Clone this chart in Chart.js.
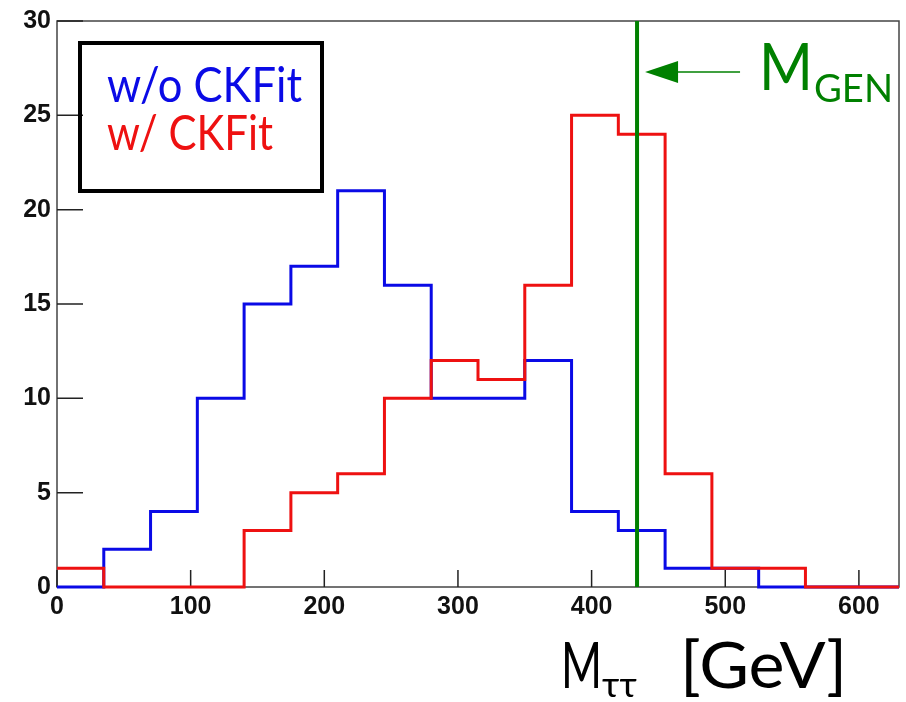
<!DOCTYPE html>
<html>
<head>
<meta charset="utf-8">
<title>M tautau</title>
<script src="https://cdn.jsdelivr.net/npm/chart.js@4"></script>
<style>
  html, body { margin: 0; padding: 0; background: #fff; }
  #wrap { width: 906px; height: 702px; }
</style>
</head>
<body>
<div id="wrap"><canvas id="massChart"></canvas></div>
<script>
// ==================== DATA ====================

// bin edges in GeV (35 GeV bins)
const binEdges = [0, 35, 70, 105, 140, 175, 210, 245, 280, 315, 350, 385, 420, 455, 490, 525, 560, 595, 630];
// entries per bin
const countsNoFit = [0, 2, 4, 10, 15, 17, 21, 16, 10, 10, 12, 4, 3, 1, 1, 0, 0, 0];
const countsFit = [1, 0, 0, 0, 3, 5, 6, 10, 12, 11, 16, 25, 24, 6, 1, 1, 0, 0];
const xTicks = [0, 100, 200, 300, 400, 500, 600];
const yTicks = [0, 5, 10, 15, 20, 25, 30];
const massGen = 434;

const BLUE = '#0a0ae6';
const RED = '#ee1111';
const GREEN = '#008000';
const TEXT_FONT = 'Lato, "DejaVu Sans", sans-serif';

// histogram outline: one point per bin edge, last bin repeated at the right edge
function toSteps(counts) {
    return binEdges.map((x, i) => ({ x: x, y: counts[Math.min(i, counts.length - 1)] }));
}

// ==================== DRAWING HELPERS ====================

// draw text squeezed or stretched horizontally to a given width
function drawFitted(ctx, text, x, baseline, width, size, color) {
    ctx.save();
    ctx.font = size + 'px ' + TEXT_FONT;
    ctx.fillStyle = color;
    ctx.textAlign = 'left';
    ctx.textBaseline = 'alphabetic';
    const w = ctx.measureText(text).width;
    ctx.translate(x, baseline);
    ctx.scale(width / w, 1);
    ctx.fillText(text, 0, 0);
    ctx.restore();
}

const framePlugin = {
    id: 'frame',
    beforeDatasetsDraw(chart) {
        const { ctx, chartArea: a, scales } = chart;
        ctx.save();
        ctx.strokeStyle = '#444';
        ctx.lineWidth = 1.5;
        ctx.strokeRect(a.left, a.top, a.right - a.left, a.bottom - a.top);

        // inward ticks, ROOT style
        ctx.strokeStyle = '#222';
        ctx.lineWidth = 1.5;
        ctx.beginPath();
        xTicks.forEach(v => {
            const px = scales.x.getPixelForValue(v);
            ctx.moveTo(px, a.bottom);
            ctx.lineTo(px, a.bottom - 17);
        });
        yTicks.forEach(v => {
            const py = scales.y.getPixelForValue(v);
            ctx.moveTo(a.left, py);
            ctx.lineTo(a.left + 26, py);
        });
        ctx.stroke();
        ctx.restore();
    },
    afterDraw(chart) {
        const { ctx, scales } = chart;
        ctx.save();

        // legend box
        ctx.strokeStyle = '#000';
        ctx.lineWidth = 4;
        ctx.strokeRect(80, 43, 242, 148);
        drawFitted(ctx, 'w/o CKFit', 107, 102, 195, 48, BLUE);
        drawFitted(ctx, 'w/ CKFit', 107, 150, 166, 48, RED);

        // generated mass label and arrow
        const gx = scales.x.getPixelForValue(massGen);
        const ay = 72;
        ctx.strokeStyle = GREEN;
        ctx.fillStyle = GREEN;
        ctx.lineWidth = 1.5;
        ctx.beginPath();
        ctx.moveTo(gx + 38, ay);
        ctx.lineTo(gx + 103, ay);
        ctx.stroke();
        ctx.beginPath();
        ctx.moveTo(gx + 8, ay);
        ctx.lineTo(gx + 41, ay - 11);
        ctx.lineTo(gx + 41, ay + 11);
        ctx.closePath();
        ctx.fill();
        drawFitted(ctx, 'M', 759, 90, 54, 66, GREEN);
        drawFitted(ctx, 'GEN', 814, 102, 79, 38, GREEN);

        // x axis title
        drawFitted(ctx, 'M', 561, 688, 41, 64, '#000');
        drawFitted(ctx, 'ττ', 602, 697, 35, 34, '#000');
        drawFitted(ctx, '[GeV]', 680, 688, 167, 64, '#000');

        ctx.restore();
    }
};

// ==================== CHART ====================

const tickFont = { family: '"Liberation Sans", Arial, sans-serif', size: 25, weight: 'bold' };

new Chart(document.getElementById('massChart'), {
    type: 'line',
    data: {
        datasets: [
            {
                label: 'w/o CKFit',
                data: toSteps(countsNoFit),
                borderColor: BLUE,
                borderWidth: 3,
                stepped: 'before',
                pointRadius: 0,
                fill: false,
                clip: 4,
                order: 2
            },
            {
                label: 'w/ CKFit',
                data: toSteps(countsFit),
                borderColor: RED,
                borderWidth: 3,
                stepped: 'before',
                pointRadius: 0,
                fill: false,
                clip: 4,
                order: 1
            },
            {
                label: 'M_GEN',
                data: [{ x: massGen, y: 0 }, { x: massGen, y: 30 }],
                borderColor: GREEN,
                borderWidth: 4,
                pointRadius: 0,
                fill: false,
                order: 0
            }
        ]
    },
    options: {
        responsive: true,
        maintainAspectRatio: false,
        animation: false,
        events: [],
        layout: { padding: { left: 0, right: 7, top: 17, bottom: 0 } },
        plugins: {
            legend: { display: false },
            tooltip: { enabled: false }
        },
        scales: {
            x: {
                type: 'linear',
                min: 0,
                max: 630,
                afterBuildTicks: s => { s.ticks = xTicks.map(v => ({ value: v })); },
                afterFit: s => { s.height = 115; },
                grid: { display: false, drawTicks: false },
                border: { display: false },
                ticks: { font: tickFont, color: '#111', padding: 5, maxRotation: 0 }
            },
            y: {
                type: 'linear',
                min: 0,
                max: 30,
                afterBuildTicks: s => { s.ticks = yTicks.map(v => ({ value: v })); },
                afterFit: s => { s.width = 57; },
                grid: { display: false, drawTicks: false },
                border: { display: false },
                ticks: { font: tickFont, color: '#111', padding: 6 }
            }
        }
    },
    plugins: [framePlugin]
});
</script>
</body>
</html>
